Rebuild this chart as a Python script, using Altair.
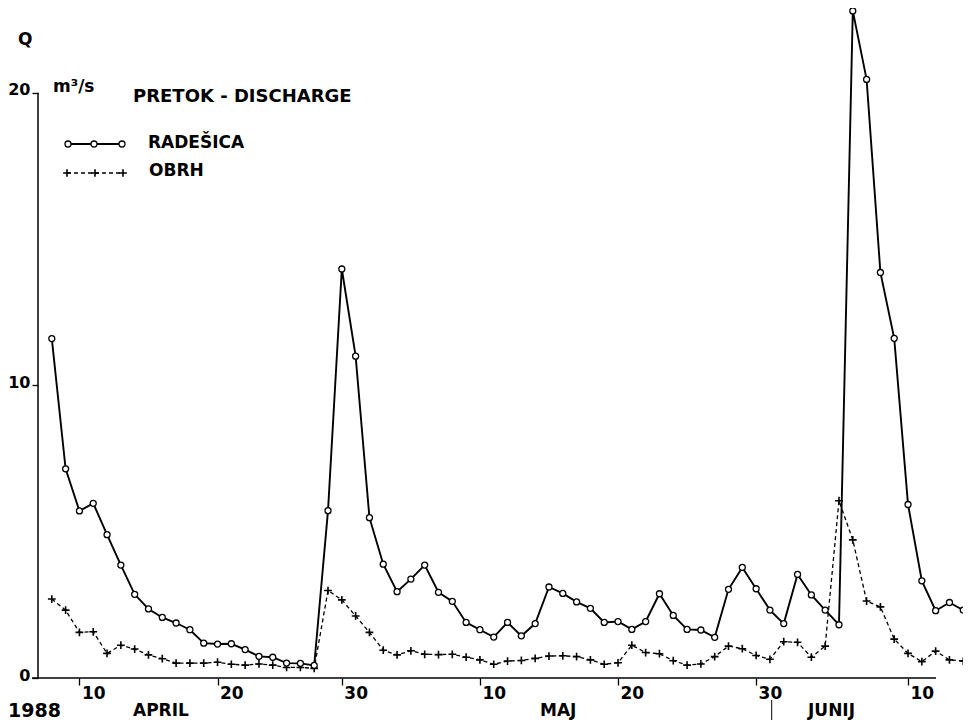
import altair as alt
import pandas as pd

# ---- data (daily values, index 0 = first day shown) ----
radesica = [11.6, 7.15, 5.71, 5.97, 4.90, 3.86, 2.86, 2.36, 2.07, 1.88,
            1.65, 1.19, 1.16, 1.17, 0.97, 0.74, 0.71, 0.51, 0.50, 0.43,
            5.72, 13.98, 11.0, 5.48, 3.89, 2.95, 3.38, 3.86, 2.93, 2.62,
            1.90, 1.65, 1.40, 1.90, 1.44, 1.86, 3.11, 2.89, 2.60, 2.38,
            1.90, 1.93, 1.66, 1.93, 2.88, 2.14, 1.66, 1.64, 1.39, 3.03,
            3.78, 3.05, 2.32, 1.86, 3.54, 2.84, 2.32, 1.82, 22.8, 20.46,
            13.86, 11.61, 5.93, 3.32, 2.30, 2.58, 2.32]
obrh = [2.70, 2.32, 1.56, 1.58, 0.84, 1.12, 0.99, 0.79, 0.66, 0.51,
        0.51, 0.51, 0.54, 0.47, 0.44, 0.48, 0.44, 0.36, 0.36, 0.33,
        2.99, 2.67, 2.12, 1.56, 0.95, 0.79, 0.93, 0.81, 0.80, 0.81,
        0.71, 0.62, 0.47, 0.58, 0.60, 0.67, 0.75, 0.76, 0.73, 0.62,
        0.47, 0.52, 1.12, 0.87, 0.83, 0.59, 0.44, 0.48, 0.73, 1.09,
        1.00, 0.77, 0.64, 1.24, 1.22, 0.71, 1.09, 6.06, 4.72, 2.63,
        2.43, 1.33, 0.84, 0.56, 0.92, 0.62, 0.58]
n = len(radesica)
days = list(range(n))

tick_days = [2, 12, 21, 31, 41, 51, 62]
tick_labels = ["10", "20", "30", "10", "20", "30", "10"]
y_ticks = [0, 10, 20]

FONT = "DejaVu Sans"

# ---- layout ----
PXD = 13.81          # pixels per day
W, H = 925, 670
XMIN = -1
XMAX = XMIN + W / PXD
YMIN, YMAX = 0, 22.9
PXQ = H / (YMAX - YMIN)


def dx(px):  # pixel offset from plot left -> data units
    return XMIN + px / PXD


def dy(py):  # pixel offset from plot top -> data units
    return YMAX - py / PXQ


xs = alt.Scale(domain=[XMIN, XMAX], nice=False, zero=False)
ys = alt.Scale(domain=[YMIN, YMAX], nice=False, zero=False)

long = pd.DataFrame({
    "dan": days * 2,
    "q": radesica + obrh,
    "reka": ["Radešica"] * n + ["Obrh"] * n,
})

label_expr = " : ".join(
    f"datum.value == {v} ? '{l}'" for v, l in zip(tick_days, tick_labels)
) + " : ''"

x_axis = alt.Axis(values=tick_days, labelExpr=label_expr, domain=False, grid=False,
                  tickSize=7, tickColor="black", tickWidth=1.3,
                  labelFont=FONT, labelFontWeight="bold", labelFontSize=17,
                  labelColor="black", labelAlign="left", labelBaseline="top",
                  labelPadding=0, labelOffset=2, labelFlush=False,
                  labelOverlap=False, title=None)
y_axis = alt.Axis(values=y_ticks, domain=False, grid=False,
                  tickSize=6, tickColor="black", tickWidth=1.3,
                  labelFont=FONT, labelFontWeight="bold", labelFontSize=16,
                  labelColor="black", labelPadding=2, labelOffset=-3,
                  labelFlush=False, labelOverlap=False, title=None)

X = alt.X("dan:Q", scale=xs, axis=x_axis)
Y = alt.Y("q:Q", scale=ys, axis=y_axis)

PLUS = "M-1,0L1,0M0,-1L0,1"

rad = alt.Chart(long).transform_filter(alt.datum.reka == "Radešica")
obr = alt.Chart(long).transform_filter(alt.datum.reka == "Obrh")

obr_line = obr.mark_line(color="black", strokeWidth=1.3, strokeDash=[4, 3]).encode(x=X, y=Y)
obr_pts = obr.mark_point(shape=PLUS, filled=False, stroke="black", strokeWidth=1.6,
                         size=60, opacity=1).encode(x=X, y=Y)
rad_line = rad.mark_line(color="black", strokeWidth=1.9).encode(x=X, y=Y)
rad_pts = rad.mark_point(shape="circle", filled=True, fill="white", stroke="black",
                         strokeWidth=1.3, size=36, opacity=1).encode(x=X, y=Y)

# ---- axis lines ----
ax_df = pd.DataFrame({
    "dan": [dx(-6), XMIN],
    "dan2": [dx(898), XMIN],
    "q": [0, 0],
    "q2": [0, 20],
})
axis_lines = alt.Chart(ax_df).mark_rule(color="black", strokeWidth=1.5).encode(
    x=X, x2="dan2:Q", y=Y, y2="q2:Q")

# month boundary marker below the axis
mark_df = pd.DataFrame({"dan": [dx(733.7)], "q": [dy(692)], "q2": [dy(712)]})
month_mark = alt.Chart(mark_df).mark_rule(color="black", strokeWidth=1).encode(
    x=X, y=Y, y2="q2:Q")

# ---- legend glyphs ----
leg_rad = pd.DataFrame({"dan": [dx(30), dx(56), dx(84)], "q": [dy(136)] * 3})
leg_obr = pd.DataFrame({"dan": [dx(29), dx(57), dx(85)], "q": [dy(165)] * 3})
leg = (
    alt.Chart(leg_obr).mark_line(color="black", strokeWidth=1.3, strokeDash=[4, 3]).encode(x=X, y=Y)
    + alt.Chart(leg_obr).mark_point(shape=PLUS, filled=False, stroke="black",
                                    strokeWidth=1.6, size=60, opacity=1).encode(x=X, y=Y)
    + alt.Chart(leg_rad).mark_line(color="black", strokeWidth=1.9).encode(x=X, y=Y)
    + alt.Chart(leg_rad).mark_point(shape="circle", filled=True, fill="white", stroke="black",
                                    strokeWidth=1.3, size=36, opacity=1).encode(x=X, y=Y)
)

# ---- text annotations ----
ann_text = ["Q", "m³/s", "PRETOK - DISCHARGE", "RADEŠICA", "OBRH",
            "1988", "APRIL", "MAJ", "JUNIJ"]
ann_px = [-20, 15, 95, 110, 111, -30, 95, 502, 770]
ann_py = [32, 79, 89, 135, 163, 703, 703, 703, 703]
ann_fs = [17, 17, 18, 17, 17, 19, 17, 17, 17]
ann_df = pd.DataFrame({
    "dan": [dx(p) for p in ann_px],
    "q": [dy(p) for p in ann_py],
    "t": ann_text,
    "fs": ann_fs,
})
texts = alt.Chart(ann_df).mark_text(font=FONT, fontWeight="bold", color="black",
                                     align="left", baseline="middle").encode(
    x=X, y=Y, text="t:N", size=alt.Size("fs:Q", scale=None, legend=None))

chart = alt.layer(
    axis_lines, month_mark, obr_line, obr_pts, rad_line, rad_pts, leg, texts
).properties(
    width=W, height=H,
    padding={"left": 30, "top": 0, "right": 0, "bottom": 42},
    autosize=alt.AutoSizeParams(type="none"),
    background="white",
).configure_view(stroke=None)

chart.save("out.html", embed_options={"renderer": "svg", "actions": False})
